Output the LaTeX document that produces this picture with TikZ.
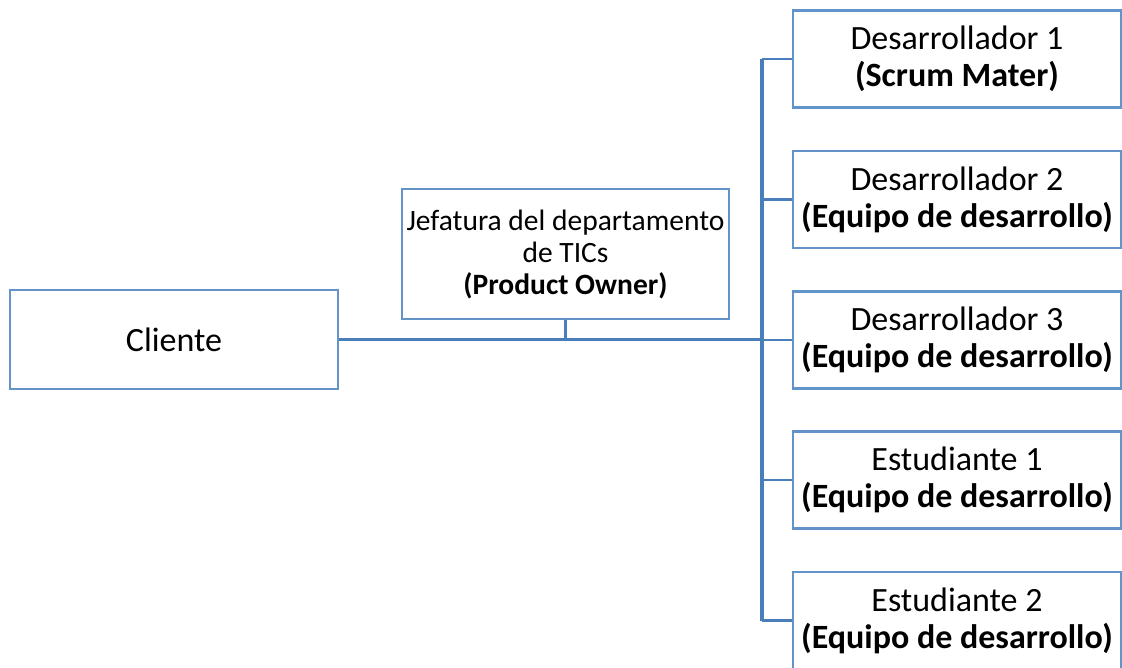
\documentclass[tikz,border=0pt]{standalone}
\usepackage{fontspec}
\setmainfont{Carlito}
\usepackage{xcolor}
\usetikzlibrary{positioning,calc}

\definecolor{boxblue}{RGB}{98,147,201}
\definecolor{lineblue}{RGB}{74,126,187}

\tikzset{
  rolebox/.style={draw=boxblue, line width=2.6pt, fill=white, align=center,
    inner sep=0pt, minimum width=328pt, minimum height=97pt,
    font=\fontsize{34}{37}\selectfont},
  trunk/.style={draw=lineblue, line width=3.5pt},
  branch/.style={draw=lineblue, line width=2.2pt}
}

\begin{document}
\begin{tikzpicture}[x=1pt, y=-1pt]
        % Frame of the picture
        \useasboundingbox (0,0) rectangle (1122,668);

        % Bus line to the team
        \coordinate (bus) at (762,0);

        % Left side
        \node[rolebox, minimum height=99pt] (cliente) at (174,339.5) {Cliente};
        \node[rolebox, minimum width=327pt, minimum height=130pt,
              font=\fontsize{29.5}{32}\selectfont] (jefe) at (565.5,254)
              {Jefatura del departamento\\de TICs\\\textbf{(Product Owner)}};

        % Team boxes
        \node[rolebox] (dev1) at (957,59) {Desarrollador 1\\\textbf{(Scrum Mater)}};
        \node[rolebox] (dev2) at (957,199.5) {Desarrollador 2\\\textbf{(Equipo de desarrollo)}};
        \node[rolebox] (dev3) at (957,340) {Desarrollador 3\\\textbf{(Equipo de desarrollo)}};
        \node[rolebox] (est1) at (957,480) {Estudiante 1\\\textbf{(Equipo de desarrollo)}};
        \node[rolebox] (est2) at (957,620.5) {Estudiante 2\\\textbf{(Equipo de desarrollo)}};

        % Connectors
        \draw[trunk] (cliente.east) -- (cliente.east -| bus);
        \draw[branch] (jefe.south) -- (jefe.south |- cliente.east);
        \draw[trunk] (dev1.west -| bus) -- (est2.west -| bus);
        \draw[branch] (dev1.west -| bus) -- (dev1.west);
        \draw[branch] (dev2.west -| bus) -- (dev2.west);
        \draw[branch] (dev3.west -| bus) -- (dev3.west);
        \draw[branch] (est1.west -| bus) -- (est1.west);
        \draw[branch] (est2.west -| bus) -- (est2.west);
    \end{tikzpicture}
\end{document}
